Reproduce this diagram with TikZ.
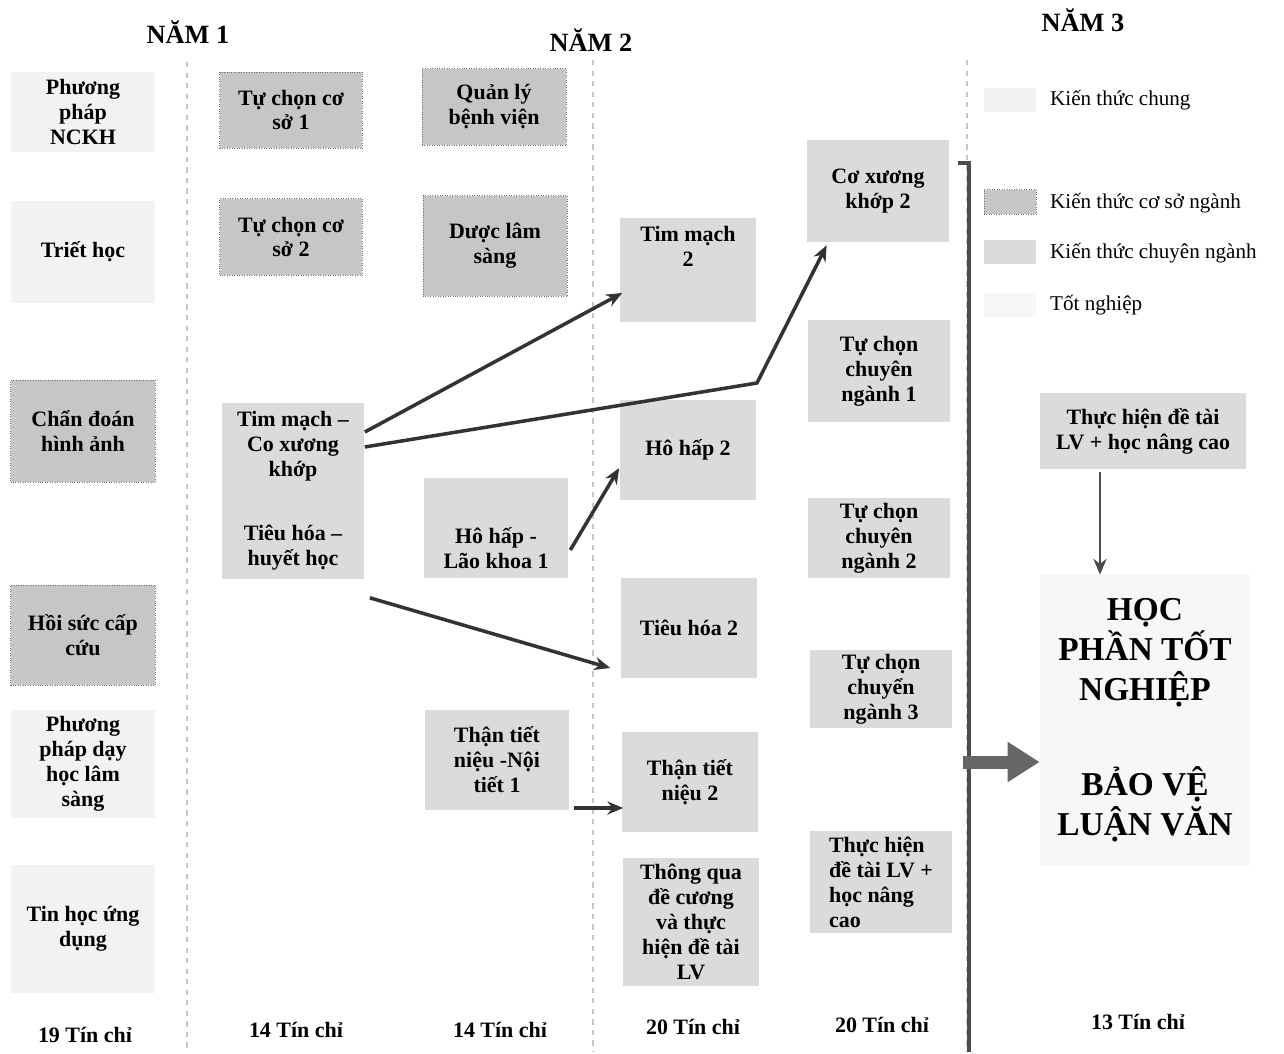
\documentclass[tikz,border=0pt]{standalone}
\usepackage{fontspec}
\setmainfont{Liberation Serif}
\usetikzlibrary{calc,arrows.meta}

\begin{document}
\begin{tikzpicture}[x=0.02cm, y=-0.02cm,
	box/.style={rectangle, align=center, inner sep=2pt, font=\bfseries\fontsize{12.5}{14.2}\selectfont},
	chung/.style={box, fill=gray!10},
	coso/.style={box, fill=gray!45, draw=black!55, densely dotted},
	chuyen/.style={box, fill=gray!28},
	totnghiep/.style={box, fill=gray!6},
	nam/.style={font=\bfseries\fontsize{15}{18}\selectfont},
	tinchi/.style={font=\bfseries\fontsize{12.5}{15}\selectfont},
	chuthich/.style={anchor=west, font=\fontsize{12}{14}\selectfont},
	mau/.style={minimum width=1.04cm, minimum height=0.5cm},
	vach/.style={gray!45, dashed, line width=0.6pt},
	muiten/.style={->, >={Stealth[length=9pt, width=7.5pt]}, line width=2pt, black!80}]
			\useasboundingbox (0,0) rectangle (1284,1054);
			% tieu de
			\node[nam] (nam1) at (188,32) {NĂM 1};
			\node[nam] (nam2) at (591,40) {NĂM 2};
			\node[nam] (nam3) at (1083,20) {NĂM 3};
			% vach chia
			\draw[vach] (187,62) -- (187,1052);
			\draw[vach] (593,60) -- (593,1052);
			\draw[vach] (967,60) -- (967,1052);
			% cot 1
			\node[chung, minimum width=2.9cm, minimum height=1.6cm] (nckh) at (83,112) {Phương\\pháp\\NCKH};
			\node[chung, minimum width=2.9cm, minimum height=2.06cm] (triet) at (83,252) {Triết học};
			\node[coso, minimum width=2.9cm, minimum height=2.04cm] (chandoan) at (83,431) {Chẩn đoán\\hình ảnh};
			\node[coso, minimum width=2.9cm, minimum height=2.0cm] (hoisuc) at (83,635) {Hồi sức cấp\\cứu};
			\node[chung, minimum width=2.9cm, minimum height=2.16cm] (ppday) at (83,764) {Phương\\pháp dạy\\học lâm\\sàng};
			\node[chung, minimum width=2.9cm, minimum height=2.56cm] (tinhoc) at (83,929) {Tin học ứng\\dụng};
			% cot 2
			\node[coso, minimum width=2.86cm, minimum height=1.52cm] (tccs1) at (291,110) {Tự chọn cơ\\sở 1};
			\node[coso, minimum width=2.86cm, minimum height=1.54cm] (tccs2) at (291,237) {Tự chọn cơ\\sở 2};
			\node[chuyen, minimum width=2.86cm, minimum height=3.54cm] (timcxk) at (293,491) {Tim mạch –\\Co xương\\khớp\\[0.78cm]Tiêu hóa –\\huyết học};
			% cot 3
			\node[coso, minimum width=2.88cm, minimum height=1.54cm] (qlbv) at (494,107) {Quản lý\\bệnh viện};
			\node[coso, minimum width=2.88cm, minimum height=2.02cm] (duocls) at (495,246) {Dược lâm\\sàng};
			\node[chuyen, minimum width=2.88cm, minimum height=2.0cm] (hohaplk) at (496,528) {\mbox{}\\[0.62cm]Hô hấp -\\Lão khoa 1};
			\node[chuyen, minimum width=2.88cm, minimum height=2.0cm] (than1) at (497,760) {Thận tiết\\niệu -Nội\\tiết 1};
			% cot 4
			\node[chuyen, minimum width=2.74cm, minimum height=2.08cm] (timmach2) at (688,270) {Tim mạch\\2\\[0.44cm]\mbox{}};
			\node[chuyen, minimum width=2.74cm, minimum height=2.0cm] (hohap2) at (688,450) {Hô hấp 2};
			\node[chuyen, minimum width=2.74cm, minimum height=2.0cm] (tieuhoa2) at (689,628) {Tiêu hóa 2};
			\node[chuyen, minimum width=2.74cm, minimum height=2.0cm] (than2) at (690,782) {Thận tiết\\niệu 2};
			\node[chuyen, minimum width=2.74cm, minimum height=2.58cm] (thongqua) at (691,922) {Thông qua\\đề cương\\và thực\\hiện đề tài\\LV};
			% cot 5
			\node[chuyen, minimum width=2.84cm, minimum height=2.04cm] (cxk2) at (878,191) {Cơ xương\\khớp 2};
			\node[chuyen, minimum width=2.84cm, minimum height=2.04cm] (tccn1) at (879,371) {Tự chọn\\chuyên\\ngành 1};
			\node[chuyen, minimum width=2.84cm, minimum height=1.6cm] (tccn2) at (879,538) {Tự chọn\\chuyên\\ngành 2};
			\node[chuyen, minimum width=2.84cm, minimum height=1.56cm] (tccn3) at (881,689) {Tự chọn\\chuyển\\ngành 3};
			\node[chuyen, align=left, minimum width=2.84cm, minimum height=2.04cm] (thuchien5) at (881,882) {Thực hiện\\đề tài LV +\\học nâng\\cao};
			% cot 6
			\node[chuyen, minimum width=4.14cm, minimum height=1.54cm] (thuchien6) at (1143,431) {Thực hiện đề tài\\LV + học nâng cao};
			\node[totnghiep, font=\bfseries\fontsize{19}{22.7}\selectfont, minimum width=4.2cm, minimum height=5.8cm] (bvlv) at (1145,720) {HỌC\\PHẦN TỐT\\NGHIỆP\\[1.1cm]BẢO VỆ\\LUẬN VĂN};
			% chu thich
			\node[mau, fill=gray!10] (mchung) at (1010,100) {};
			\node[coso, mau] (mcoso) at (1010,202) {};
			\node[mau, fill=gray!28] (mchuyen) at (1010,252) {};
			\node[mau, fill=gray!6] (mtot) at (1010,305) {};
			\node[chuthich] (lchung) at (1044,100) {Kiến thức chung};
			\node[chuthich] (lcoso) at (1044,203) {Kiến thức cơ sở ngành};
			\node[chuthich] (lchuyen) at (1044,253) {Kiến thức chuyên ngành};
			\node[chuthich] (ltot) at (1044,305) {Tốt nghiệp};
			% tin chi
			\node[tinchi] (tc1) at (85,1035) {19 Tín chỉ};
			\node[tinchi] (tc2) at (296,1030) {14 Tín chỉ};
			\node[tinchi] (tc3) at (500,1030) {14 Tín chỉ};
			\node[tinchi] (tc4) at (693,1027) {20 Tín chỉ};
			\node[tinchi] (tc5) at (882,1025) {20 Tín chỉ};
			\node[tinchi] (tc6) at (1138,1022) {13 Tín chỉ};
			% mui ten
			\coordinate (cxkgoc) at (757,383);
			\draw[muiten] ($(timcxk.east)+(0,-59)$) -- ($(timmach2.west)+(3,23)$);
			\draw[muiten] ($(timcxk.east)+(0,-44)$) -- (cxkgoc) -- ($(cxk2.south west)+(20,3)$);
			\draw[muiten] ($(hohaplk.east)+(2,22)$) -- ($(hohap2.west)+(0,18)$);
			\draw[muiten] ($(timcxk.south east)+(5,18)$) -- ($(tieuhoa2.west)+(-10,40)$);
			\draw[muiten] ($(than1.east)+(5,48)$) -- ($(than2.west)+(2,26)$);
			\draw[muiten, black!70, line width=1.6pt] ($(thuchien6.south)+(-43,2)$) -- ($(bvlv.north)+(-45,0)$);
			% thanh doc
			\coordinate (bartop) at (969,163);
			\coordinate (barmid) at (963,762);
			\draw[black!70, line width=2.8pt] (958,163) -- (bartop) -- (969,1052);
			\draw[black!60, line width=0.26cm, -{Triangle[length=0.64cm, width=0.76cm]}] (barmid) -- (bvlv.west |- barmid);
		\end{tikzpicture}
\end{document}
